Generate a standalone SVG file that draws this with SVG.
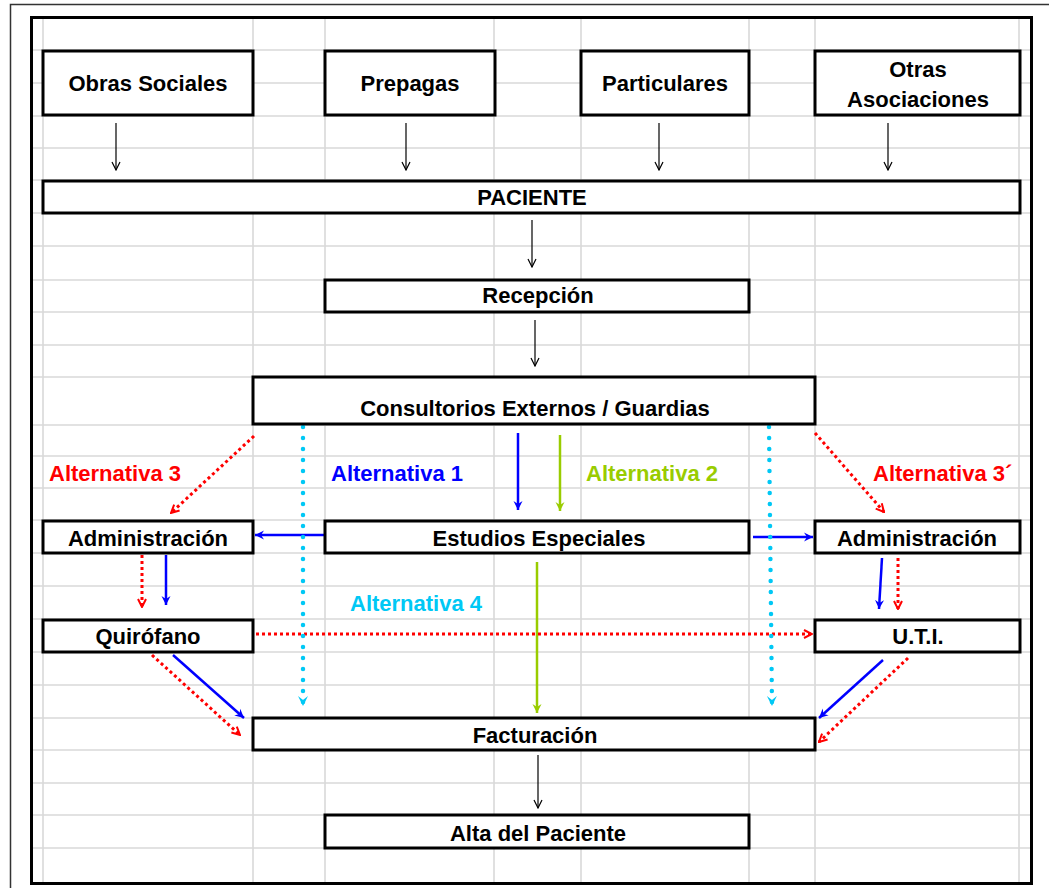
<svg xmlns="http://www.w3.org/2000/svg" width="1049" height="888" viewBox="0 0 1049 888">
<style>
.box{fill:#fff;stroke:#000;stroke-width:3}
.t{font-family:"Liberation Sans",Arial,sans-serif;font-weight:bold;font-size:22px;fill:#000;text-anchor:middle}
.lb{font-family:"Liberation Sans",Arial,sans-serif;font-weight:bold;font-size:22px}
.grid{stroke:#d9d9d9;stroke-width:1.6;fill:none}
.k{stroke:#000;stroke-width:1.2;fill:none}
.b{stroke:#0000ff;stroke-width:2.5;fill:none}
.g{stroke:#99cc00;stroke-width:2.5;fill:none}
.r{stroke:#ff0000;stroke-width:3;stroke-dasharray:3 3;fill:none}
.c{stroke:#00c8f5;stroke-width:4.5;stroke-linecap:round;stroke-dasharray:0 11;fill:none}
</style>
<defs>
<marker id="mk" markerWidth="10" markerHeight="10" refX="9" refY="5" orient="auto" markerUnits="userSpaceOnUse"><path d="M1,1 L9,5 L1,9" fill="none" stroke="#000" stroke-width="1.2"/></marker>
<marker id="mb" markerWidth="10" markerHeight="10" refX="9" refY="5" orient="auto" markerUnits="userSpaceOnUse"><path d="M0,0.5 L9,5 L0,9.5 L3,5 z" fill="#0000ff"/></marker>
<marker id="mg" markerWidth="10" markerHeight="10" refX="9" refY="5" orient="auto" markerUnits="userSpaceOnUse"><path d="M0,0.5 L9,5 L0,9.5 L3,5 z" fill="#99cc00"/></marker>
<marker id="mr" markerWidth="10" markerHeight="10" refX="9" refY="5" orient="auto" markerUnits="userSpaceOnUse"><path d="M1,1 L9,5 L1,9" fill="none" stroke="#ff0000" stroke-width="2"/></marker>
<marker id="mc" markerWidth="12" markerHeight="12" refX="10" refY="6" orient="auto" markerUnits="userSpaceOnUse"><path d="M0,1 L10,6 L0,11 L4,6 z" fill="#00c8f5"/></marker>
</defs>
<rect x="0" y="0" width="1049" height="888" fill="#fff"/>
<g id="grid">
<path class="grid" d="M31,50H1031M31,83H1031M31,116H1031M31,148H1031M31,180H1031M31,213H1031M31,246H1031M31,280H1031M31,312H1031M31,345H1031M31,377H1031M31,425H1031M31,456H1031M31,488H1031M31,520H1031M31,553H1031M31,586H1031M31,619H1031M31,652H1031M31,685H1031M31,718H1031M31,750H1031M31,783H1031M31,815H1031M31,848H1031"/>
<path class="grid" d="M43,17V884M253,17V884M325,17V884M494,17V884M581,17V884M749,17V884M815,17V884M1019,17V884"/>
</g>
<g id="frame">
<path d="M10.5,888V4.5H1049" fill="none" stroke="#333" stroke-width="1.5"/>
<rect x="31.5" y="17.5" width="1000" height="866" fill="none" stroke="#000" stroke-width="3"/>
</g>
<g id="labels">
<text class="lb" x="49" y="481" fill="#ff0000">Alternativa 3</text>
<text class="lb" x="331" y="481" fill="#0000ff">Alternativa 1</text>
<text class="lb" x="586" y="481" fill="#99cc00">Alternativa 2</text>
<text class="lb" x="873" y="481" fill="#ff0000">Alternativa 3´</text>
<text class="lb" x="350" y="611" fill="#00c8f5">Alternativa 4</text>
</g>
<g id="connectors">
<line class="k" x1="116" y1="123" x2="116" y2="170" marker-end="url(#mk)"/>
<line class="k" x1="406" y1="123" x2="406" y2="170" marker-end="url(#mk)"/>
<line class="k" x1="659" y1="123" x2="659" y2="170" marker-end="url(#mk)"/>
<line class="k" x1="888" y1="123" x2="888" y2="170" marker-end="url(#mk)"/>
<line class="k" x1="532" y1="220" x2="532" y2="267" marker-end="url(#mk)"/>
<line class="k" x1="535" y1="320" x2="535" y2="366" marker-end="url(#mk)"/>
<line class="k" x1="538" y1="755" x2="538" y2="808" marker-end="url(#mk)"/>
<line class="b" x1="518" y1="433" x2="518" y2="510" marker-end="url(#mb)"/>
<line class="b" x1="325" y1="535" x2="255" y2="535" marker-end="url(#mb)"/>
<line class="b" x1="753" y1="537" x2="813" y2="537" marker-end="url(#mb)"/>
<line class="b" x1="166" y1="555" x2="166" y2="605" marker-end="url(#mb)"/>
<line class="b" x1="882" y1="558" x2="879" y2="609" marker-end="url(#mb)"/>
<line class="b" x1="173" y1="655" x2="244" y2="718" marker-end="url(#mb)"/>
<line class="b" x1="883" y1="660" x2="819" y2="718" marker-end="url(#mb)"/>
<line class="g" x1="560" y1="435" x2="560" y2="511" marker-end="url(#mg)"/>
<line class="g" x1="537" y1="562" x2="537" y2="713" marker-end="url(#mg)"/>
<line class="r" x1="254" y1="436" x2="171" y2="513" marker-end="url(#mr)"/>
<line class="r" x1="815" y1="433" x2="884" y2="512" marker-end="url(#mr)"/>
<line class="r" x1="142" y1="555" x2="142" y2="607" marker-end="url(#mr)"/>
<line class="r" x1="898" y1="558" x2="898" y2="609" marker-end="url(#mr)"/>
<line class="r" x1="256" y1="634" x2="812" y2="634" marker-end="url(#mr)"/>
<line class="r" x1="152" y1="655" x2="240" y2="735" marker-end="url(#mr)"/>
<line class="r" x1="908" y1="658" x2="819" y2="742" marker-end="url(#mr)"/>
<line class="c" x1="303" y1="427" x2="303" y2="706" marker-end="url(#mc)"/>
<line class="c" x1="769" y1="427" x2="772" y2="706" marker-end="url(#mc)"/>
</g>
<g id="obras-sociales"><rect class="box" x="43" y="51" width="210" height="64"/><text class="t" x="148" y="91">Obras Sociales</text></g>
<g id="prepagas"><rect class="box" x="325" y="51" width="170" height="64"/><text class="t" x="410" y="91">Prepagas</text></g>
<g id="particulares"><rect class="box" x="581" y="51" width="168" height="64"/><text class="t" x="665" y="91">Particulares</text></g>
<g id="otras-asociaciones"><rect class="box" x="815" y="51" width="205" height="64"/><text class="t" x="918" y="77">Otras</text><text class="t" x="918" y="107">Asociaciones</text></g>
<g id="paciente"><rect class="box" x="43" y="181" width="977" height="32"/><text class="t" x="532" y="205">PACIENTE</text></g>
<g id="recepcion"><rect class="box" x="325" y="280" width="424" height="32"/><text class="t" x="538" y="303">Recepción</text></g>
<g id="consultorios"><rect class="box" x="253" y="377" width="562" height="47"/><text class="t" x="535" y="416">Consultorios Externos / Guardias</text></g>
<g id="administracion-izq"><rect class="box" x="43" y="521" width="210" height="32"/><text class="t" x="148" y="546">Administración</text></g>
<g id="estudios-especiales"><rect class="box" x="325" y="521" width="424" height="32"/><text class="t" x="539" y="546">Estudios Especiales</text></g>
<g id="administracion-der"><rect class="box" x="815" y="521" width="205" height="32"/><text class="t" x="917" y="546">Administración</text></g>
<g id="quirofano"><rect class="box" x="43" y="620" width="210" height="32"/><text class="t" x="148" y="644">Quirófano</text></g>
<g id="uti"><rect class="box" x="815" y="620" width="205" height="32"/><text class="t" x="918" y="644">U.T.I.</text></g>
<g id="facturacion"><rect class="box" x="253" y="718" width="562" height="32"/><text class="t" x="535" y="743">Facturación</text></g>
<g id="alta"><rect class="box" x="325" y="815" width="424" height="33"/><text class="t" x="538" y="841">Alta del Paciente</text></g>
</svg>
